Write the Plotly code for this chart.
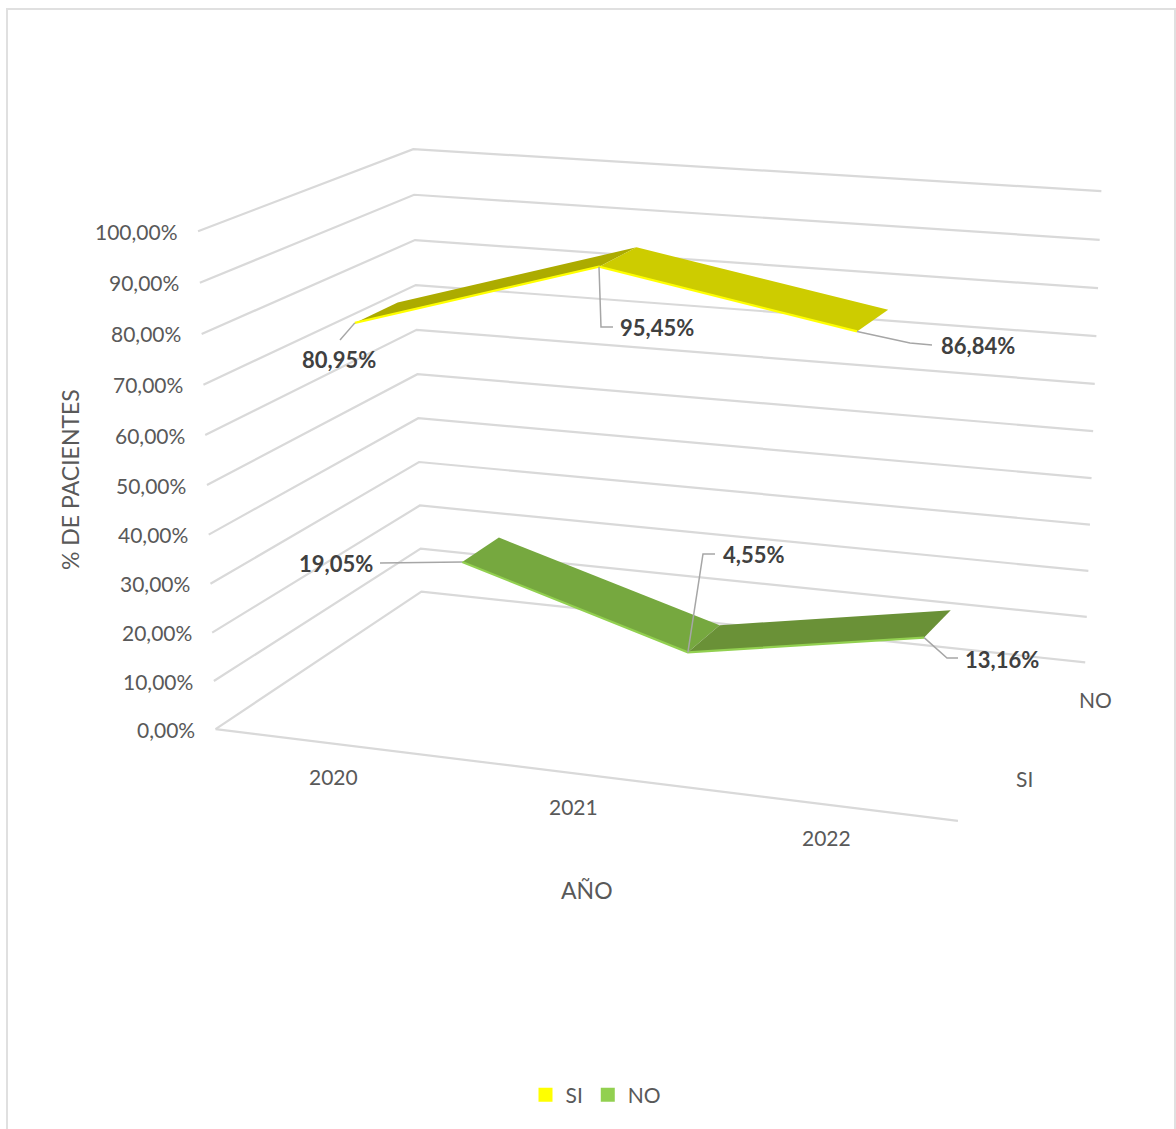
import numpy as np
import plotly.graph_objects as go

# ---- data ----
YEARS = ["2020", "2021", "2022"]
SERIES_NAMES = ["SI", "NO"]
SI_VALUES = [80.95, 95.45, 86.84]
NO_VALUES = [19.05, 4.55, 13.16]
Y_TICKS = [0, 10, 20, 30, 40, 50, 60, 70, 80, 90, 100]

# ---- style ----
FONT = "Lato"
TXT = "#595959"
LBL = "#404040"
GRID = "#d9d9d9"
LEAD = "#a6a6a6"
STYLE = {
    "SI": dict(edge="#ffff00", rise="#acab00", fall="#cdcc00", legend="#ffff00"),
    "NO": dict(edge="#92d050", rise="#6a9137", fall="#76a83f", legend="#92d050"),
}
W, H = 1176, 1129
N_CAT, N_DEPTH = 3, 2
RIBBON = 0.4  # share of a depth slot used by a ribbon (gap depth 150 %)

# ---- 3-D view of the chart box: (category, value, depth) -> page position ----
CALIB = [
    ((0, 0, 0), (216, 729)), ((0, 10, 0), (214, 681)), ((0, 20, 0), (212, 632)), ((0, 30, 0), (210, 584)),
    ((0, 70, 0), (203, 385)), ((0, 80, 0), (202, 334)), ((0, 90, 0), (200, 283)), ((0, 100, 0), (198, 231)),
    ((0, 0, 2), (421, 592)), ((0, 50, 2), (418, 374)), ((0, 70, 2), (416, 285)), ((0, 80, 2), (415, 240)),
    ((0, 90, 2), (414, 195)), ((0, 100, 2), (413, 149)),
    ((3, 0, 2), (1085, 662)), ((3, 10, 2), (1087, 617)), ((3, 90, 2), (1100, 240)), ((3, 100, 2), (1101, 191)),
    ((3, 0, 0), (958, 821)),
]


def fit_view(pairs):
    rows, rhs = [], []
    for (a, b, c), (u, v) in pairs:
        rows.append([a, b, c, 1, 0, 0, 0, 0, -u * a, -u * b, -u * c])
        rows.append([0, 0, 0, 0, a, b, c, 1, -v * a, -v * b, -v * c])
        rhs += [u, v]
    sol = np.linalg.lstsq(np.array(rows, float), np.array(rhs, float), rcond=None)[0]
    return np.append(sol, 1.0).reshape(3, 4)


VIEW = fit_view(CALIB)


def project(cat, val, depth):
    h = VIEW @ np.array([cat, val, depth, 1.0])
    return float(h[0] / h[2]), float(h[1] / h[2])


fig = go.Figure()


def add_path(points, color, width=2.2, fill=None):
    xs, ys = zip(*[project(*p) for p in points])
    if fill:
        fig.add_trace(go.Scatter(x=list(xs) + [xs[0]], y=list(ys) + [ys[0]], mode="lines", fill="toself",
                                 fillcolor=fill, line=dict(width=0, color=fill), showlegend=False, hoverinfo="skip"))
    else:
        fig.add_trace(go.Scatter(x=xs, y=ys, mode="lines", line=dict(color=color, width=width),
                                 showlegend=False, hoverinfo="skip"))


# gridlines: left wall + back wall, and the floor's front edge
for t in Y_TICKS:
    add_path([(0, t, 0), (0, t, N_DEPTH), (N_CAT, t, N_DEPTH)], GRID)
add_path([(0, 0, 0), (N_CAT, 0, 0)], GRID)

# ribbons
series = {"SI": SI_VALUES, "NO": NO_VALUES}
front_of = {}
for s, name in enumerate(SERIES_NAMES):
    vals = series[name]
    d0 = s + (1 - RIBBON) / 2
    d1 = d0 + RIBBON
    front_of[name] = d0
    st = STYLE[name]
    for i in range(len(vals) - 1):
        a, b = vals[i], vals[i + 1]
        col = st["rise"] if b > a else st["fall"]
        add_path([(i + .5, a, d0), (i + 1.5, b, d0), (i + 1.5, b, d1), (i + .5, a, d1)], None, fill=col)
    add_path([(i + .5, v, d0) for i, v in enumerate(vals)], st["edge"], width=2.2)

# axis tick labels
ann = []


def text(x, y, s, size=21, color=TXT, bold=False, xanchor="center", angle=0):
    ann.append(dict(x=x, y=y - 1, xref="x", yref="y", text=f"<b>{s}</b>" if bold else s, showarrow=False,
                    xanchor=xanchor, yanchor="middle", textangle=angle,
                    font=dict(family=FONT, size=size, color=color)))


for t in Y_TICKS:
    px, py = project(0, t, 0)
    text(px - 18.5, py + 1, f"{t:.2f}".replace(".", ",") + "%", xanchor="right")

CAT_LABEL_POS = [(333, 777), (573, 807), (826, 838)]
for lab, (x, y) in zip(YEARS, CAT_LABEL_POS):
    text(x, y, lab)
SERIES_LABEL_POS = {"SI": (1024, 779), "NO": (1095, 700)}
for name, (x, y) in SERIES_LABEL_POS.items():
    text(x, y, name)
text(587, 891, "AÑO", size=23)
text(70, 481, "% DE PACIENTES", size=23, angle=-90)

# data labels with leader lines: (series, index) -> bends and label centre
LEADERS = {
    ("SI", 0): ([(340, 340)], (339, 360)),
    ("SI", 1): ([(601, 327), (613, 327)], (657, 328)),
    ("SI", 2): ([(910, 343), (932, 345)], (978, 346)),
    ("NO", 0): ([(380, 563)], (336, 564)),
    ("NO", 1): ([(703, 554), (715, 554)], (753, 555)),
    ("NO", 2): ([(947, 658), (958, 658)], (1002, 660)),
}
for name in SERIES_NAMES:
    for i, v in enumerate(series[name]):
        bends, (lx, ly) = LEADERS[(name, i)]
        sx, sy = project(i + .5, v, front_of[name])
        xs = [sx] + [b[0] for b in bends]
        ys = [sy] + [b[1] for b in bends]
        fig.add_trace(go.Scatter(x=xs, y=ys, mode="lines", line=dict(color=LEAD, width=1.5),
                                 showlegend=False, hoverinfo="skip"))
        text(lx, ly, f"{v:.2f}".replace(".", ",") + "%", size=22, color=LBL, bold=True)

# legend entries
for name in SERIES_NAMES:
    fig.add_trace(go.Scatter(x=[None], y=[None], mode="markers", name=name,
                             marker=dict(symbol="square", size=14, color=STYLE[name]["legend"])))

fig.update_layout(
    width=W, height=H, margin=dict(l=0, r=0, t=0, b=0), paper_bgcolor="white", plot_bgcolor="white",
    xaxis=dict(range=[0, W], visible=False, fixedrange=True),
    yaxis=dict(range=[H, 0], visible=False, fixedrange=True),
    annotations=ann,
    legend=dict(orientation="h", x=596 / W, xanchor="center", y=1 - 1095 / H, yanchor="middle",
                font=dict(family=FONT, size=21, color=TXT), itemwidth=30, bgcolor="rgba(0,0,0,0)"),
    shapes=[dict(type="rect", xref="x", yref="y", x0=7, y0=9, x1=1175, y1=H + 20,
                 line=dict(color="#e0e0e0", width=2), layer="below")],
)
fig.write_html("out.html", config={"displayModeBar": False},
               post_script="document.body.style.margin='0';document.body.style.overflow='hidden';")
